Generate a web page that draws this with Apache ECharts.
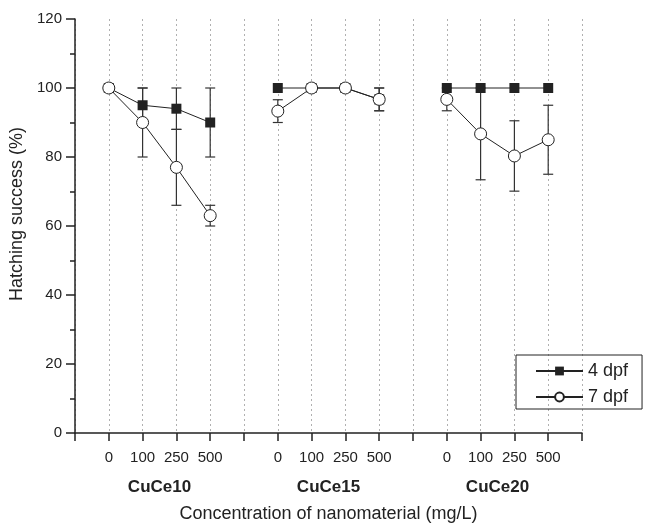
<!DOCTYPE html>
<html>
<head>
<meta charset="utf-8">
<style>html,body{margin:0;padding:0;background:#fff;}#c{width:649px;height:528px;}</style>
<script src="https://cdn.jsdelivr.net/npm/echarts@6/dist/echarts.min.js"></script>
</head>
<body>
<div id="c"></div>
<script>
// ---- data ----
var groups = ['CuCe10', 'CuCe15', 'CuCe20'];
var concentrations = ['0', '100', '250', '500'];
var yTicks = [0, 20, 40, 60, 80, 100, 120];
var dpf4 = [[100, 95, 94, 90], [100, 100, 100, 96.7], [100, 100, 100, 100]];
var dpf4Err = [[0, 5, 6, 10], [0, 0, 0, 3.3], [0, 0, 0, 0]];
var dpf7 = [[100, 90, 77, 63], [93.3, 100, 100, 96.7], [96.7, 86.7, 80.3, 85]];
var dpf7Err = [[0, 10, 11, 3], [3.3, 0, 0, 3.3], [3.3, 13.3, 10.2, 10]];

// x position of point i in group g on the shared value axis
function xPos(g, i) { return g * 5 + i + 1; }

var FONT = 'Liberation Sans, Arial, sans-serif';
var INK = '#222';

function tickLabel(v) {
  var r = Math.round(v);
  if (Math.abs(v - r) > 1e-6) return '';
  var g = Math.floor((r - 1) / 5), i = (r - 1) % 5;
  if (r < 1 || g > 2 || i > 3) return '';
  return concentrations[i];
}
function groupLabel(v) {
  var k = (v - 2.5) / 5;
  if (Math.abs(k - Math.round(k)) > 1e-6) return '';
  k = Math.round(k);
  return (k >= 0 && k < groups.length) ? groups[k] : '';
}

function errData(vals, errs) {
  var out = [];
  for (var g = 0; g < vals.length; g++)
    for (var i = 0; i < vals[g].length; i++)
      if (errs[g][i] > 0) out.push([xPos(g, i), vals[g][i], errs[g][i]]);
  return out;
}
function errSeries(vals, errs, z) {
  return {
    type: 'custom', z: z, silent: true,
    data: errData(vals, errs),
    encode: { x: 0, y: 1 },
    renderItem: function (params, api) {
      var x = api.value(0), y = api.value(1), e = api.value(2);
      var top = api.coord([x, y + e]), bot = api.coord([x, y - e]);
      var w = 5;
      var st = { stroke: '#333', lineWidth: 1.2, fill: null };
      return {
        type: 'group',
        children: [
          { type: 'line', shape: { x1: top[0], y1: top[1], x2: bot[0], y2: bot[1] }, style: st },
          { type: 'line', shape: { x1: top[0] - w, y1: top[1], x2: top[0] + w, y2: top[1] }, style: st },
          { type: 'line', shape: { x1: bot[0] - w, y1: bot[1], x2: bot[0] + w, y2: bot[1] }, style: st }
        ]
      };
    }
  };
}

var series = [errSeries(dpf4, dpf4Err, 1), errSeries(dpf7, dpf7Err, 1)];
for (var g = 0; g < groups.length; g++) {
  series.push({
    name: '4 dpf', type: 'line', z: 2,
    data: dpf4[g].map(function (v, i) { return [xPos(g, i), v]; }),
    symbol: 'rect', symbolSize: 10,
    lineStyle: { color: INK, width: 1 },
    itemStyle: { color: INK, borderColor: INK, borderWidth: 0 },
    emphasis: { disabled: true }
  });
}
for (var g2 = 0; g2 < groups.length; g2++) {
  series.push({
    name: '7 dpf', type: 'line', z: 3,
    data: dpf7[g2].map(function (v, i) { return [xPos(g2, i), v]; }),
    symbol: 'circle', symbolSize: 12,
    lineStyle: { color: INK, width: 1 },
    itemStyle: { color: '#fff', borderColor: INK, borderWidth: 1 },
    emphasis: { disabled: true }
  });
}

var chart = echarts.init(document.getElementById('c'), null, { renderer: 'canvas' });
chart.setOption({
  animation: false,
  backgroundColor: '#fff',
  textStyle: { fontFamily: FONT, color: INK },
  grid: { left: 75, right: 67, top: 19, bottom: 90, containLabel: false },
  legend: {
    orient: 'vertical', left: 516, top: 355,
    data: ['4 dpf', '7 dpf'],
    itemWidth: 47, itemHeight: 11, itemGap: 8,
    borderColor: INK, borderWidth: 1,
    padding: [7, 14, 3, 19],
    textStyle: { fontFamily: FONT, fontSize: 18, color: INK }
  },
  xAxis: [{
    type: 'value', min: 0, max: 15, interval: 1,
    axisLine: { lineStyle: { color: INK, width: 1.5 } },
    axisTick: { show: true, inside: false, length: 8, lineStyle: { color: INK, width: 1.5 } },
    axisLabel: { formatter: tickLabel, fontSize: 15, color: INK, margin: 17, fontFamily: FONT },
    splitLine: { show: true, lineStyle: { type: [2, 3], color: '#b0b0b0', width: 1 } }
  }, {
    type: 'value', min: 0, max: 15, interval: 2.5, position: 'bottom',
    axisLine: { show: false }, axisTick: { show: false }, splitLine: { show: false },
    axisLabel: { formatter: groupLabel, fontSize: 17, fontWeight: 'bold', color: INK, margin: 46, fontFamily: FONT },
    name: 'Concentration of nanomaterial (mg/L)',
    nameLocation: 'middle', nameGap: 72,
    nameTextStyle: { fontSize: 18, color: INK, fontFamily: FONT }
  }],
  yAxis: {
    type: 'value', min: yTicks[0], max: yTicks[yTicks.length - 1], interval: 20,
    axisLine: { show: true, lineStyle: { color: INK, width: 1.5 } },
    axisTick: { show: true, inside: false, length: 9, lineStyle: { color: INK, width: 1.5 } },
    minorTick: { show: true, splitNumber: 2, length: 5, lineStyle: { color: INK, width: 1.5 } },
    axisLabel: { fontSize: 15, color: INK, margin: 13, fontFamily: FONT },
    splitLine: { show: false },
    name: 'Hatching success (%)',
    nameLocation: 'middle', nameGap: 48,
    nameTextStyle: { fontSize: 18, color: INK, fontFamily: FONT, padding: [0, 0, 0, 24] }
  },
  series: series
});
</script>
</body>
</html>
